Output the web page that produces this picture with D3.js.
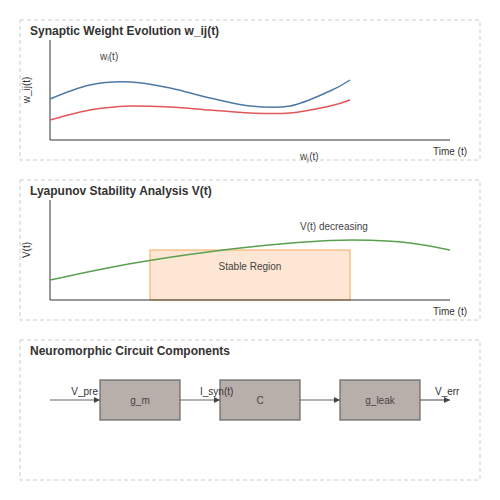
<!DOCTYPE html>
<html><head><meta charset="utf-8">
<script src="https://cdn.jsdelivr.net/npm/d3@7"></script>
<style>body{margin:0;background:#fff}text{font-family:"Liberation Sans",Arial,sans-serif}</style>
</head><body><svg id="c" width="500" height="500"></svg>
<script>
const timeT = [0,1,2,3,4,5,6,7,7.5];
const wBlue = [0.41,0.55,0.58,0.52,0.42,0.34,0.34,0.49,0.60];
const wRed  = [0.20,0.30,0.34,0.33,0.30,0.27,0.27,0.34,0.40];
const vT = [0,2,4,6,7,8,9,10];
const vVals = [0.20,0.37,0.49,0.57,0.60,0.60,0.58,0.50];
const region = {t0:2.5,t1:7.5,v0:0,v1:0.5};
const blocks = ["g_m","C","g_leak"];
const wires = ["V_pre","I_syn(t)","","V_err"];

const svg = d3.select("#c");
const defs = svg.append("defs");
defs.append("marker").attr("id","ar").attr("viewBox","0 0 10 10").attr("refX",10).attr("refY",5)
 .attr("markerWidth",5).attr("markerHeight",5).attr("orient","auto")
 .append("path").attr("d","M0,0L10,5L0,10z").attr("fill","#444");

function panel(y,title){
  svg.append("rect").attr("x",20).attr("y",y).attr("width",460).attr("height",140)
   .attr("fill","#fff").attr("stroke","#ccc").attr("stroke-dasharray","4,3");
  svg.append("text").attr("x",30).attr("y",y+15).attr("font-size",12).attr("font-weight","bold")
   .attr("fill","#333").text(title);
}
function axes(y0){
  svg.append("path").attr("d",`M50,${y0+20}V${y0+120}H450`).attr("fill","none").attr("stroke","#333");
}
const x = d3.scaleLinear().domain([0,10]).range([50,450]);

panel(20,"Synaptic Weight Evolution w_ij(t)");
axes(20);
const y1 = d3.scaleLinear().domain([0,1]).range([140,40]);
const ln1 = d3.line().x(d=>x(d[0])).y(d=>y1(d[1])).curve(d3.curveCardinal);
svg.append("path").attr("d",ln1(timeT.map((t,i)=>[t,wBlue[i]]))).attr("fill","none").attr("stroke","#4e79a7").attr("stroke-width",1.5);
svg.append("path").attr("d",ln1(timeT.map((t,i)=>[t,wRed[i]]))).attr("fill","none").attr("stroke","#e15759").attr("stroke-width",1.5);
svg.append("text").attr("x",100).attr("y",60).attr("font-size",10).attr("fill","#444").text("wᵢ(t)");
svg.append("text").attr("x",300).attr("y",160).attr("font-size",10).attr("fill","#444").text("wⱼ(t)");
svg.append("text").attr("x",467).attr("y",155).attr("font-size",10).attr("fill","#333").attr("text-anchor","end").text("Time (t)");
svg.append("text").attr("transform","translate(30,90) rotate(-90)").attr("font-size",10).attr("fill","#333").attr("text-anchor","middle").text("w_ij(t)");

panel(180,"Lyapunov Stability Analysis V(t)");
const y2 = d3.scaleLinear().domain([0,1]).range([300,200]);
svg.append("rect").attr("x",x(region.t0)).attr("y",y2(region.v1)).attr("width",x(region.t1)-x(region.t0))
 .attr("height",y2(region.v0)-y2(region.v1)).attr("fill","#fde6d4").attr("stroke","#f4b574").attr("stroke-width",1.2);
axes(180);
const ln2 = d3.line().x(d=>x(d[0])).y(d=>y2(d[1])).curve(d3.curveBasis);
svg.append("path").attr("d",ln2(vT.map((t,i)=>[t,vVals[i]]))).attr("fill","none").attr("stroke","#59a14f").attr("stroke-width",1.5);
svg.append("text").attr("x",250).attr("y",270).attr("font-size",10).attr("fill","#444").attr("text-anchor","middle").text("Stable Region");
svg.append("text").attr("x",300).attr("y",230).attr("font-size",10).attr("fill","#444").text("V(t) decreasing");
svg.append("text").attr("x",467).attr("y",315).attr("font-size",10).attr("fill","#333").attr("text-anchor","end").text("Time (t)");
svg.append("text").attr("transform","translate(30,250) rotate(-90)").attr("font-size",10).attr("fill","#333").attr("text-anchor","middle").text("V(t)");

panel(340,"Neuromorphic Circuit Components");
const bx = d3.scalePoint().domain(blocks).range([140,380]);
const wx = [50,180,300,420], wend=[100,220,340,450];
wires.forEach((w,i)=>{
  svg.append("line").attr("x1",wx[i]).attr("x2",wend[i]).attr("y1",400).attr("y2",400)
   .attr("stroke","#666").attr("stroke-width",1.2).attr("marker-end","url(#ar)");
});
blocks.forEach(b=>{
  svg.append("rect").attr("x",bx(b)-40).attr("y",380).attr("width",80).attr("height",40)
   .attr("fill","#b9afaa").attr("stroke","#666").attr("stroke-width",1.2);
  svg.append("text").attr("x",bx(b)).attr("y",404).attr("text-anchor","middle").attr("font-size",10).attr("fill","#444").text(b);
});
svg.append("text").attr("x",98).attr("y",395).attr("text-anchor","end").attr("font-size",10).attr("fill","#333").text("V_pre");
svg.append("text").attr("x",200).attr("y",395).attr("font-size",10).attr("fill","#333").text("I_syn(t)");
svg.append("text").attr("x",435).attr("y",395).attr("font-size",10).attr("fill","#333").text("V_err");
</script></body></html>
